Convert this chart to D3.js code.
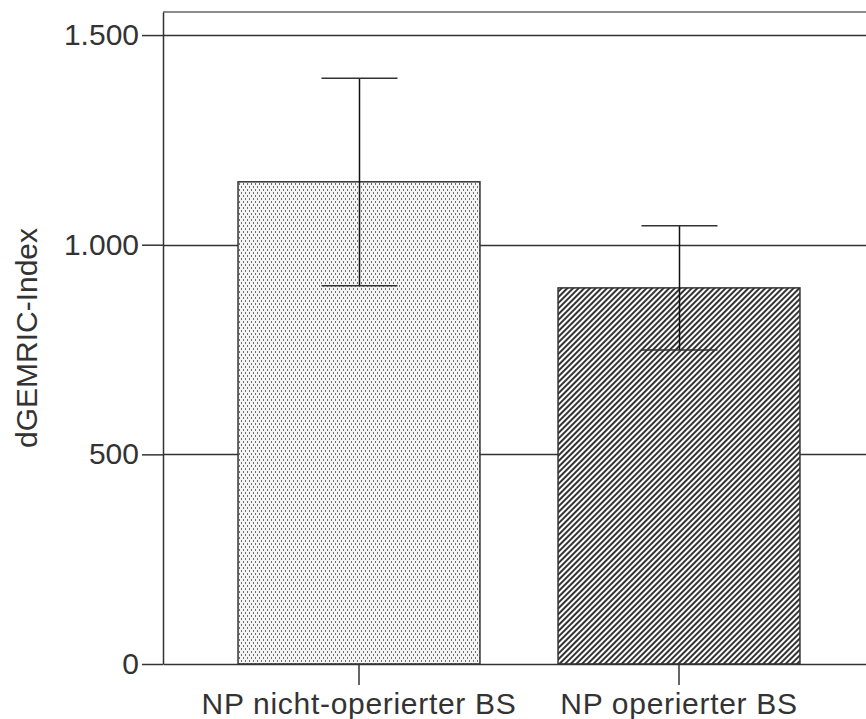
<!DOCTYPE html>
<meta charset="utf-8" />
<html>
  <head>
    <script src="https://d3js.org/d3.v7.min.js"></script>
    <style>
      body {
        margin: 0;
        background-color: white;
      }
      text {
        font-family: "Liberation Sans", Arial, sans-serif;
        fill: #333;
      }
    </style>
  </head>
  <body>
    <div id="chart"></div>
  </body>

  <script>
    // values
    const categories = ["NP nicht-operierter BS", "NP operierter BS"];
    const means = [1150, 897];
    const errLow = [902, 749];
    const errHigh = [1397, 1045];
    const yTicks = [0, 500, 1000, 1500];
    const yLabel = "dGEMRIC-Index";

    const width = 866;
    const height = 719;
    const margin = ({top: 12, right: -9, bottom: 55, left: 163});

    const de = d3.formatLocale({decimal: ",", thousands: ".", grouping: [3], currency: ["", " €"]});
    const fmt = de.format(",d");

    const svg = d3.select("#chart").append("svg")
      .attr("width", width)
      .attr("height", height);

    const defs = svg.append("defs");

    // dotted fill for the first bar
    const dots = defs.append("pattern")
      .attr("id", "dots")
      .attr("patternUnits", "userSpaceOnUse")
      .attr("width", 4)
      .attr("height", 6);
    dots.append("rect").attr("width", 4).attr("height", 6).attr("fill", "#f4f4f4");
    dots.append("rect").attr("x", 1).attr("y", 0).attr("width", 1).attr("height", 2).attr("fill", "#707070");
    dots.append("rect").attr("x", 3).attr("y", 3).attr("width", 1).attr("height", 2).attr("fill", "#707070");

    // diagonal hatch for the second bar
    const hatch = defs.append("pattern")
      .attr("id", "hatch")
      .attr("patternUnits", "userSpaceOnUse")
      .attr("width", 4)
      .attr("height", 4)
      .attr("patternTransform", "rotate(45)");
    hatch.append("rect").attr("width", 4).attr("height", 4).attr("fill", "white");
    hatch.append("rect").attr("width", 2).attr("height", 4).attr("fill", "#333");

    const x = d3.scaleBand()
      .domain(categories)
      .range([margin.left, width - margin.right])
      .paddingInner(0.244)
      .paddingOuter(0.2345);

    const y = d3.scaleLinear()
      .domain([0, 1555])
      .range([height - margin.bottom, margin.top]);

    const x0 = margin.left;
    const x1 = width - margin.right;

    // grid lines
    svg.append("g")
      .selectAll("line")
      .data(yTicks.filter(d => d > 0))
      .join("line")
        .attr("x1", x0)
        .attr("x2", x1)
        .attr("y1", d => Math.round(y(d)) + 0.5)
        .attr("y2", d => Math.round(y(d)) + 0.5)
        .attr("stroke", "#333")
        .attr("stroke-width", 1.5);

    // top border
    svg.append("line")
      .attr("x1", x0).attr("x2", x1)
      .attr("y1", y.range()[1]).attr("y2", y.range()[1])
      .attr("stroke", "#666")
      .attr("stroke-width", 1.5);

    const data = categories.map((c, i) => ({cat: c, mean: means[i], lo: errLow[i], hi: errHigh[i], fill: i === 0 ? "url(#dots)" : "url(#hatch)"}));

    svg.append("g")
      .selectAll("rect")
      .data(data)
      .join("rect")
        .attr("x", d => x(d.cat))
        .attr("y", d => y(d.mean))
        .attr("width", x.bandwidth())
        .attr("height", d => y(0) - y(d.mean))
        .attr("fill", d => d.fill)
        .attr("stroke", "#333")
        .attr("stroke-width", 1.5);

    // error bars
    const capW = 76;
    const eb = svg.append("g")
      .selectAll("g")
      .data(data)
      .join("g")
        .attr("transform", d => `translate(${Math.round(x(d.cat) + x.bandwidth() / 2) + 0.5},0)`);
    eb.append("line")
      .attr("y1", d => y(d.lo)).attr("y2", d => y(d.hi))
      .attr("stroke", "#111").attr("stroke-width", 1.5);
    eb.append("line")
      .attr("x1", -capW / 2).attr("x2", capW / 2)
      .attr("y1", d => y(d.hi)).attr("y2", d => y(d.hi))
      .attr("stroke", "#333").attr("stroke-width", 1.5);
    eb.append("line")
      .attr("x1", -capW / 2).attr("x2", capW / 2)
      .attr("y1", d => y(d.lo)).attr("y2", d => y(d.lo))
      .attr("stroke", "#333").attr("stroke-width", 1.5);

    // y axis
    const yAxis = svg.append("g")
      .attr("transform", `translate(${x0},0)`)
      .call(d3.axisLeft(y).tickValues(yTicks).tickFormat(fmt).tickSize(21).tickPadding(3).tickSizeOuter(0));
    yAxis.select(".domain").attr("stroke", "#333").attr("stroke-width", 1.5);
    yAxis.selectAll(".tick line").attr("stroke", "#333").attr("stroke-width", 1.5);
    yAxis.selectAll(".tick text")
      .style("font-size", "30px")
      .style("font-family", "'Liberation Sans', Arial, sans-serif")
      .attr("fill", "#333");

    // x axis
    const xAxis = svg.append("g")
      .attr("transform", `translate(0,${y(0)})`)
      .call(d3.axisBottom(x).tickSize(21).tickPadding(8).tickSizeOuter(0));
    xAxis.select(".domain").attr("stroke", "#333").attr("stroke-width", 1.5);
    xAxis.selectAll(".tick line").attr("stroke", "#333").attr("stroke-width", 1.5);
    xAxis.selectAll(".tick text")
      .style("font-size", "30px")
      .style("letter-spacing", "0.7px")
      .style("font-family", "'Liberation Sans', Arial, sans-serif")
      .attr("fill", "#333");

    // y label
    svg.append("text")
      .attr("transform", `translate(37,${(y.range()[0] + y.range()[1]) / 2}) rotate(-90)`)
      .attr("text-anchor", "middle")
      .style("font-size", "30px")
      .text(yLabel);
  </script>
</html>
